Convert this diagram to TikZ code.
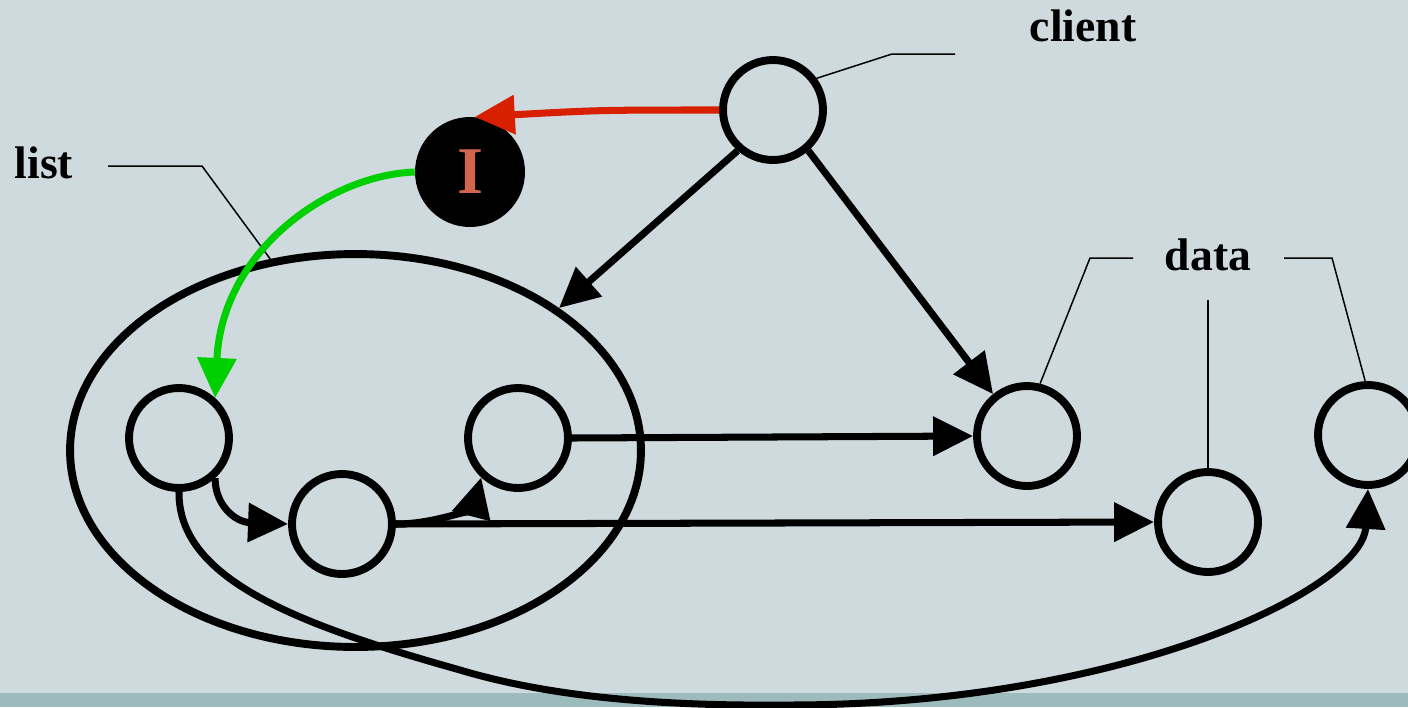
\documentclass[tikz,border=0pt]{standalone}
\usepackage{fontspec}
\setmainfont{Liberation Serif}
\usetikzlibrary{arrows.meta,shapes.geometric}
\definecolor{baggrund}{HTML}{CFDADF}
\definecolor{bund}{HTML}{9DBBBD}
\definecolor{roed}{HTML}{D82000}
\definecolor{groen}{HTML}{00D000}
\definecolor{bogstav}{HTML}{D0664C}

\begin{document}
\begin{tikzpicture}[x=0.02cm,y=-0.02cm,
  knude/.style={circle,draw,line width=4.5pt,minimum size=2cm,inner sep=0pt},
  pil/.style={line width=4pt,-{Triangle[length=0.8cm,width=0.76cm]}},
  leder/.style={line width=0.85pt},
  etiket/.style={font=\fontsize{26}{30}\selectfont\bfseries,anchor=base}]
  % Baggrund og bundkant
  \useasboundingbox (0,0) rectangle (1408,707);
  \fill[baggrund] (0,0) rectangle (1408,707);
  \fill[bund] (0,693) rectangle (1408,707);

  % Knuder
  \node[knude] (klient) at (773,110) {};
  \node[circle,fill=black,minimum size=2.2cm,inner sep=0pt,text=bogstav,
        font=\fontsize{38}{40}\selectfont\bfseries] (I) at (470,172) {I};
  \node[ellipse,draw,line width=4.5pt,minimum width=11.42cm,minimum height=7.86cm,
        inner sep=0pt] (liste) at (355.5,450.5) {};
  \node[knude] (n1) at (179,438) {};
  \node[knude] (n2) at (342,524) {};
  \node[knude] (n3) at (518,438) {};
  \node[knude] (d1) at (1027,436) {};
  \node[knude] (d2) at (1208,522) {};
  \node[knude] (d3) at (1368,435) {};

  % Etiketter
  \node[etiket] (klient-tekst) at (1083,41) {client};
  \node[etiket] (liste-tekst) at (44,178) {list};
  \node[etiket] (data-tekst) at (1208,270) {data};

  % Hjaelpelinjer fra etiketter
  \coordinate (kl-ende) at (955,54);
  \coordinate (li-ende) at (108,166);
  \coordinate (da-v) at (1133,258);
  \coordinate (da-m) at (1208,300);
  \coordinate (da-h) at (1284,258);
  \draw[leder] (kl-ende) -- (892,54) -- (klient.36);
  \draw[leder] (li-ende) -- (202,166) -- (liste.114);
  \draw[leder] (da-v) -- (1090,258) -- (d1.76);
  \draw[leder] (da-m) -- (d2.north);
  \draw[leder] (da-h) -- (1332,258) -- (d3.93);

  % Pile
  \draw[pil,roed] (klient.west) .. controls (600,110) .. (I.85);
  \draw[pil,groen] (I.west) .. controls (330,175) and (222,250) .. (n1.48);
  \draw[pil] (klient.229) -- (liste.35);
  \draw[pil] (klient.311) -- (d1.129);
  \draw[pil] (n3.east) -- (d1.west);
  \draw[pil] (n2.east) -- (d2.west);
  \draw[pil] (n1.-48) .. controls (215,505) and (235,522) .. (n2.west);
  \draw[pil] (n2.east) .. controls (440,524) and (474,505) .. (n3.227);
  \draw[pil] (n1.south) .. controls (178,580) and (300,625) .. (460,670)
    .. controls (560,700) and (680,706) .. (785,705)
    .. controls (1120,706) and (1362,590) .. (d3.south);
\end{tikzpicture}
\end{document}
